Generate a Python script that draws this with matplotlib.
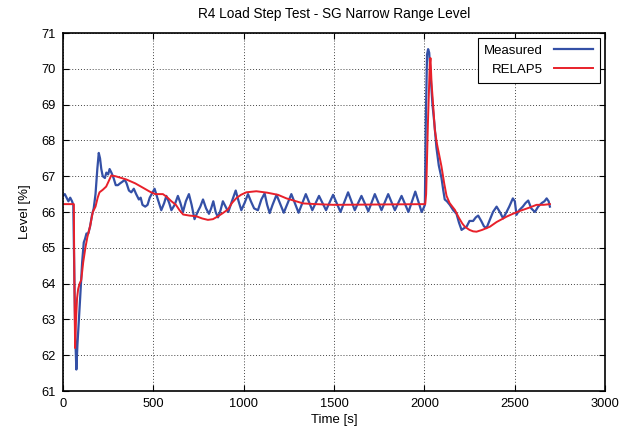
import matplotlib
matplotlib.use("Agg")
import matplotlib.pyplot as plt

plt.rcParams['font.family'] = ['Liberation Sans', 'DejaVu Sans']

title = "R4 Load Step Test - SG Narrow Range Level"
xlabel = "Time [s]"
ylabel = "Level [%]"
series_names = ["Measured", "RELAP5"]
xticks = [0, 500, 1000, 1500, 2000, 2500, 3000]
yticks = [61, 62, 63, 64, 65, 66, 67, 68, 69, 70, 71]

meas_t = [0, 10, 20, 30, 40, 50, 57, 62, 68, 74, 80, 86, 95, 106, 115, 122, 130, 140, 150, 160,
          170, 180, 190, 198, 205, 212, 220, 232, 240, 250, 258, 268, 280, 292, 304, 316, 330, 342,
          352, 365, 378, 392, 405, 420, 430, 440, 455, 468, 480,
          507, 525, 544, 560, 572, 588, 600, 618, 636, 650, 664, 680, 697, 712, 728, 745, 760, 775,
          792, 808, 820, 832, 845, 858, 872, 885, 900, 915, 935, 956, 972, 987, 1005, 1024, 1040,
          1058, 1079, 1098, 1116, 1130, 1144, 1160, 1182, 1222, 1264, 1304, 1344, 1380, 1417, 1456,
          1495, 1536, 1578, 1615, 1652, 1690, 1726, 1763, 1800, 1837, 1874, 1912, 1950, 1985,
          1995, 2003, 2008, 2015, 2021, 2027, 2035, 2045, 2055, 2067, 2080, 2095, 2105, 2113, 2125,
          2141, 2160, 2178, 2192, 2206, 2220, 2235, 2250, 2270, 2285, 2298, 2315, 2330, 2344, 2360,
          2380, 2400, 2418, 2436, 2455, 2470, 2490, 2501, 2510, 2525, 2545, 2560, 2575, 2592, 2612,
          2630, 2650, 2665, 2677, 2688, 2695]
meas_v = [66.45, 66.5, 66.4, 66.3, 66.4, 66.3, 66.2, 64.5, 62.5, 61.6, 62.3, 62.8, 63.6, 64.6, 65.15,
          65.25, 65.4, 65.4, 65.6, 65.9, 66.1, 66.5, 67.2, 67.65, 67.5, 67.2, 67.0, 66.95, 67.1, 67.05,
          67.2, 67.1, 66.95, 66.75, 66.75, 66.8, 66.85, 66.9, 66.8, 66.6, 66.55, 66.65, 66.5, 66.35,
          66.4, 66.2, 66.15, 66.2, 66.4,
          66.65, 66.35, 66.05, 66.25, 66.45, 66.25, 66.05, 66.2, 66.45, 66.25, 66.0, 66.3, 66.5, 66.2,
          65.8, 66.0, 66.15, 66.35, 66.1, 65.95, 66.1, 66.3, 66.0, 65.85, 66.05, 66.3, 66.15, 66.0,
          66.3, 66.6, 66.3, 66.05, 66.25, 66.5, 66.3, 66.1, 66.05, 66.35, 66.52, 66.2, 65.97, 66.2,
          66.48, 65.98, 66.5, 65.98, 66.5, 66.05, 66.45, 66.05, 66.48, 66.0, 66.55, 66.05, 66.45,
          66.02, 66.5, 66.05, 66.5, 66.05, 66.45, 66.0, 66.57, 66.0,
          66.1, 66.2, 68.5, 70.4, 70.55, 70.45, 69.8, 69.0, 68.5, 67.8, 67.3, 66.95, 66.6, 66.35, 66.3,
          66.2, 66.05, 65.95, 65.7, 65.5, 65.55, 65.6, 65.75, 65.75, 65.85, 65.9, 65.75, 65.6, 65.55,
          65.75, 66.0, 66.15, 66.0, 65.82, 66.0, 66.15, 66.38, 66.3, 65.92, 66.05, 66.15, 66.25, 66.32,
          66.1, 66.0, 66.15, 66.25, 66.3, 66.38, 66.3, 66.15]

relap_t = [0, 60, 63, 67, 72, 78, 84, 92, 101, 112, 125, 135, 150, 165, 180, 192, 202, 220, 239, 252,
           267, 290, 350, 400, 442, 480, 510, 553, 575, 600, 625, 645, 665, 700, 738, 770, 802, 830,
           858, 885, 913, 935, 960, 985, 1015, 1070, 1130, 1190, 1237, 1290, 1329, 1400, 1500, 2005,
           2010, 2020, 2030, 2034, 2040, 2050, 2058, 2070, 2082, 2095, 2110, 2123, 2140, 2155, 2169,
           2190, 2210, 2224, 2250, 2270, 2289, 2320, 2363, 2400, 2455, 2490, 2529, 2580, 2621, 2660,
           2695]
relap_v = [66.22, 66.22, 64.0, 62.2, 62.98, 63.6, 63.85, 64.0, 64.1, 64.6, 65.03, 65.3, 65.6, 66.0,
           66.15, 66.4, 66.55, 66.62, 66.71, 66.85, 67.02, 67.0, 66.91, 66.8, 66.68, 66.57, 66.5, 66.5,
           66.42, 66.3, 66.2, 66.05, 65.93, 65.9, 65.88, 65.82, 65.78, 65.8, 65.88, 65.97, 66.07, 66.25,
           66.39, 66.48, 66.55, 66.58, 66.54, 66.48, 66.38, 66.3, 66.24, 66.22, 66.2, 66.22,
           66.5, 68.5, 70.1, 70.3, 69.6, 68.9, 68.3, 67.9, 67.6, 67.27, 66.8, 66.45, 66.25, 66.15,
           66.06, 65.85, 65.68, 65.59, 65.5, 65.46, 65.45, 65.5, 65.59, 65.72, 65.87, 65.95, 66.03,
           66.12, 66.2, 66.2, 66.22]

fig = plt.figure(figsize=(6.2, 4.32), dpi=100)
ax = fig.add_axes([0.1016, 0.0949, 0.8742, 0.8287])

ax.plot(meas_t, meas_v, color='#3450a6', lw=1.6, label=series_names[0], solid_joinstyle='round')
ax.plot(relap_t, relap_v, color='#e8202a', lw=1.4, label=series_names[1])

ax.set_xlim(0, 3000)
ax.set_ylim(61, 71)
ax.set_xticks(xticks)
ax.set_yticks(yticks)
ax.tick_params(direction='in', top=True, right=True, labelsize=9.3, length=4, width=0.8, pad=5)
ax.grid(True, linestyle=(0, (1, 2)), color='#444444', linewidth=0.7)
for s in ax.spines.values():
    s.set_linewidth(1.2)

ax.set_title(title, fontsize=9.8, pad=11)
ax.set_xlabel(xlabel, fontsize=9.5, labelpad=3)
ax.set_ylabel(ylabel, fontsize=9.5, labelpad=8)

leg = ax.legend(loc='upper right', markerfirst=False, fancybox=False, framealpha=1,
                edgecolor='black', fontsize=9.5, handlelength=3, borderaxespad=0.4,
                labelspacing=0.5, handletextpad=0.8, borderpad=0.5)
leg.get_frame().set_linewidth(0.8)
for t in leg.get_texts():
    t.set_ha('right')

fig.savefig('out.png', dpi=100)
